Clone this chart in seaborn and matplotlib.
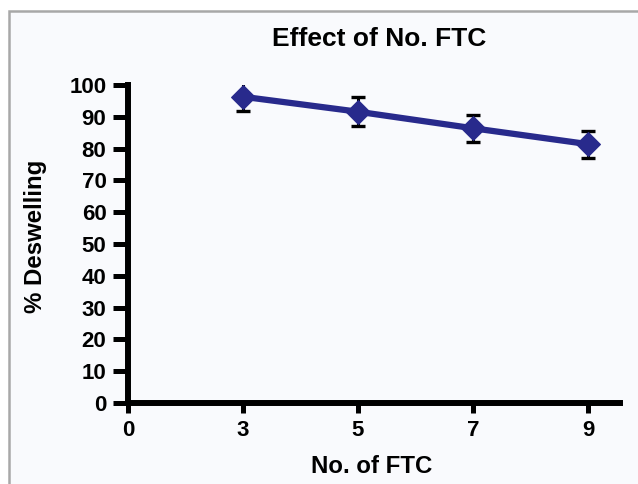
import matplotlib
matplotlib.use("Agg")
import matplotlib.pyplot as plt
import seaborn as sns
import pandas as pd
from matplotlib.patches import Rectangle

x_labels = ["0", "3", "5", "7", "9"]
ftc = ["3", "5", "7", "9"]
deswelling = [96.3, 91.6, 86.4, 81.4]
err = [4.6, 4.6, 4.2, 4.2]
y_ticks = [0, 10, 20, 30, 40, 50, 60, 70, 80, 90, 100]

sns.set_theme(style="ticks")
plt.rcParams['font.family'] = ['Liberation Sans', 'DejaVu Sans']
plt.rcParams['font.weight'] = 'bold'
plt.rcParams['text.color'] = 'black'
plt.rcParams['axes.labelcolor'] = 'black'

df = pd.DataFrame({"pos": [x_labels.index(f) for f in ftc], "val": deswelling, "err": err})

W, H = 638, 484
fig = plt.figure(figsize=(W / 100, H / 100), dpi=100, facecolor="white")
bg = "#f9fafd"
fig.patches.append(Rectangle((8.5 / W, -0.01), 1.0, (H - 11.5) / H + 0.01,
                             transform=fig.transFigure, facecolor=bg,
                             edgecolor="#a8a8a8", linewidth=1.8, zorder=-10))

ax_w, ax_h = 620 - 128, 403 - 85
ax = fig.add_axes([128 / W, 1 - 403 / H, ax_w / W, ax_h / H])
ax.set_facecolor(bg)

ax.errorbar(df["pos"], df["val"], yerr=df["err"], fmt="none", ecolor="black",
            elinewidth=2.2, capsize=5, capthick=2.4, zorder=2)
sns.lineplot(data=df, x="pos", y="val", ax=ax, color="#282a8c", linewidth=4.5,
             marker="D", markersize=12, markeredgecolor="#282a8c", zorder=3)

ax.set_xlim(0, 4 + 32 / 115)
ax.set_ylim(0, 100)
ax.set_xticks(range(len(x_labels)))
ax.set_xticklabels(x_labels)
ax.set_yticks(y_ticks)

for s in ["top", "right"]:
    ax.spines[s].set_visible(False)
for s in ["left", "bottom"]:
    ax.spines[s].set_linewidth(4.3)
    ax.spines[s].set_color("black")
    ax.spines[s].set_capstyle("projecting")

ax.tick_params(axis="both", direction="out", width=3.6, labelsize=16,
               colors="black")
ax.tick_params(axis="x", length=7.5, pad=5)
ax.tick_params(axis="y", length=10.5, pad=5)
for lab in ax.get_xticklabels() + ax.get_yticklabels():
    lab.set_fontweight("bold")

ax.set_xlabel("No. of FTC", fontsize=17.3, fontweight="bold")
ax.xaxis.set_label_coords((372 - 128) / ax_w, (403 - 455) / ax_h)
ax.set_ylabel("% Deswelling", fontsize=17.3, fontweight="bold")
ax.yaxis.set_label_coords((47 - 128) / ax_w, (403 - 236.5) / ax_h)
ax.text((379 - 128) / ax_w, (403 - 46.5) / ax_h, "Effect of No. FTC",
        transform=ax.transAxes, ha="center", va="baseline",
        fontsize=19, fontweight="bold", color="black")

fig.savefig("out.png", dpi=100, facecolor="white")
